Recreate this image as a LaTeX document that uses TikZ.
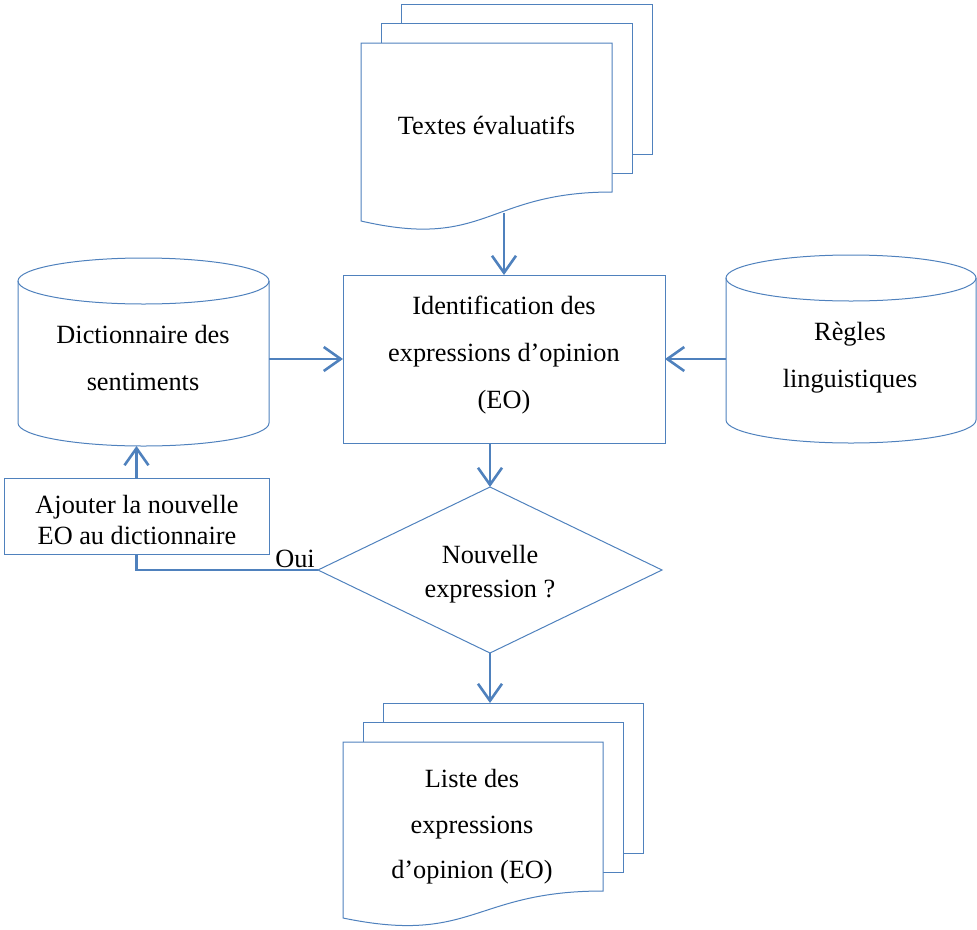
\documentclass[tikz,border=0pt]{standalone}
\usepackage{fontspec}
\setmainfont{Liberation Serif}
\usetikzlibrary{arrows.meta,calc,shapes.geometric}
\definecolor{flowblue}{RGB}{79,129,189}

% stack of three pages drawn behind and around the front page node #1;
% #2 = how far the right end of the wavy bottom edge sits above the left end
\newcommand\pagestack[2]{%
  \draw[flowline] ($(#1.north west)+(40,-20)$) -- ++(0,-19)
     -| ($(#1.south east)+(40,-#2-38)$) -- ($(#1.south east)+(20,-#2-38)$);
  \draw[flowline] ($(#1.north west)+(20,0)$) -- ++(0,-20)
     -| ($(#1.south east)+(20,-#2-19)$) -- ($(#1.south east)+(0,-#2-19)$);
  \draw[flowline, fill=white] (#1.south west) -- (#1.north west) -- (#1.north east)
     -- ($(#1.south east)+(0,-#2)$)
     .. controls ($(#1.south)+(0,-#2)$) and ($(#1.south)+(0,#2)$) .. (#1.south west) -- cycle;
}
% database drum around node #1 with horizontal radius #2
\newcommand\drum[2]{%
  \draw[flowline] ($(#1.north west)+(0,23)$) -- ($(#1.south west)+(0,-23)$)
     arc[start angle=180, end angle=0, x radius=#2, y radius=23]
     -- ($(#1.north east)+(0,23)$);
  \draw[flowline] ($(#1.north)+(0,23)$) ellipse[x radius=#2, y radius=23];
}

\begin{document}
\begin{tikzpicture}[x=1pt, y=-1pt,
  flowline/.style={draw=flowblue, line width=1pt},
  arr/.style={draw=flowblue, line width=2.6pt,
              -{Straight Barb[length=17pt, width=24pt]}},
  conn/.style={draw=flowblue, line width=2.2pt},
  shapehull/.style={inner sep=0, outer sep=0, draw=none},
  procbox/.style={flowline, inner sep=0, outer sep=0},
  txt/.style={align=center, inner sep=0, font=\fontsize{26.3}{47}\selectfont},
]
\useasboundingbox (0,0) rectangle (977,929);

% input documents
\node[shapehull, minimum width=251, minimum height=178] (tpage) at (486.5,132) {};
\pagestack{tpage}{29}
\node[txt] (tlabel) at (486.5,125) {Textes évaluatifs};

% processing step
\node[procbox, minimum width=322, minimum height=168] (proc) at (504,359) {};
\node[txt] (plabel) at (504,355.5) {Identification des\\expressions d’opinion\\(EO)};

% resources
\node[shapehull, minimum width=251, minimum height=188] (dict) at (143.5,352) {};
\drum{dict}{125.5}
\node[txt] (dlabel) at (143,358) {Dictionnaire des\\sentiments};

\node[shapehull, minimum width=250, minimum height=188] (rules) at (851,349) {};
\drum{rules}{125}
\node[txt] (rlabel) at (850,358) {Règles\\linguistiques};

% update step
\node[procbox, minimum width=265, minimum height=76] (add) at (136.5,516) {};
\node[txt, font=\fontsize{26.3}{31}\selectfont] (alabel) at (137,520)
      {Ajouter la nouvelle\\EO au dictionnaire};

% decision
\node[procbox, diamond, aspect=2.07, minimum width=344, minimum height=166] (new) at (490,570) {};
\node[txt, font=\fontsize{26.3}{34}\selectfont] (nlabel) at (490,574)
      {Nouvelle\\expression ?};

% output documents
\node[shapehull, minimum width=260, minimum height=176] (bpage) at (473,830) {};
\pagestack{bpage}{27}
\node[txt, font=\fontsize{26.3}{45.5}\selectfont] (blabel) at (472,827)
      {Liste des\\expressions\\d’opinion (EO)};

% connector ends on the page stacks
\coordinate (tfoot) at ($(tpage.south)+(17.5,-8)$);
\coordinate (btop) at ($(bpage.north)+(0,-39)$);

% connectors
\draw[arr] (tfoot) -- (proc.north);
\draw[arr] (dict.east |- proc.west) -- (proc.west);
\draw[arr] (rules.west |- proc.east) -- (proc.east);
\draw[arr] (new.north |- proc.south) -- (new.north);
\draw[arr] (new.south) -- (new.south |- btop);
\draw[arr] (add.north) -- (add.north |- dict.south);
\draw[conn] (new.west) -| (add.south);
\node[txt, anchor=base east] (oui) at ($(new.west)+(-3,-3)$) {Oui};
\end{tikzpicture}
\end{document}
